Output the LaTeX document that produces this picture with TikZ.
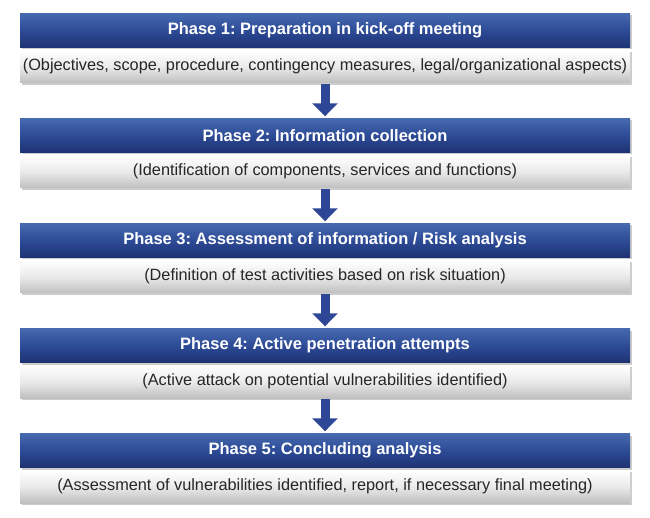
\documentclass[tikz,border=0pt]{standalone}
\usepackage{fontspec}
\setmainfont{Liberation Sans}
\frenchspacing
\usetikzlibrary{arrows.meta,shadows}
\definecolor{hTop}{RGB}{70,105,175}
\definecolor{hMid}{RGB}{45,75,150}
\definecolor{hBot}{RGB}{30,50,115}
\definecolor{arr}{RGB}{45,70,150}
\begin{document}
\begin{tikzpicture}[x=1pt,y=-1pt,
  hdr/.style={minimum width=610pt,minimum height=34pt,inner sep=0pt,top color=hTop,bottom color=hBot,middle color=hMid,text=white,font=\fontsize{16.5}{18}\selectfont\bfseries,drop shadow={shadow xshift=2pt,shadow yshift=-2pt,opacity=0.4}},
  sub/.style={minimum width=610pt,minimum height=33pt,inner sep=0pt,top color=white,bottom color=black!25,middle color=black!8,text=black!85,font=\fontsize{16.3}{18}\selectfont,drop shadow={shadow xshift=2pt,shadow yshift=-2pt,opacity=0.4}},
  flow/.style={line width=9pt,draw=arr,-{Triangle[width=25pt,length=13pt]},shorten <=1pt,shorten >=2pt}]
\useasboundingbox (0,0) rectangle (650,518);
\def\ph{105}
\foreach \i/\t/\s in {1/{Phase 1: Preparation in kick-off meeting}/{(Objectives, scope, procedure, contingency measures, legal/organizational aspects)},
  2/{Phase 2: Information collection}/{(Identification of components, services and functions)},
  3/{Phase 3: Assessment of information / Risk analysis}/{(Definition of test activities based on risk situation)},
  4/{Phase 4: Active penetration attempts}/{(Active attack on potential vulnerabilities identified)},
  5/{Phase 5: Concluding analysis}/{(Assessment of vulnerabilities identified, report, if necessary final meeting)}}{
  \node[hdr] (h\i) at (325,{30.5+(\i-1)*\ph}) {\t};
  \node[sub] (g\i) at (325,{66.5+(\i-1)*\ph}) {\s};
}
\foreach \a/\b in {1/2,2/3,3/4,4/5}{\draw[flow] (g\a.south) -- (h\b.north);}
\end{tikzpicture}
\end{document}
